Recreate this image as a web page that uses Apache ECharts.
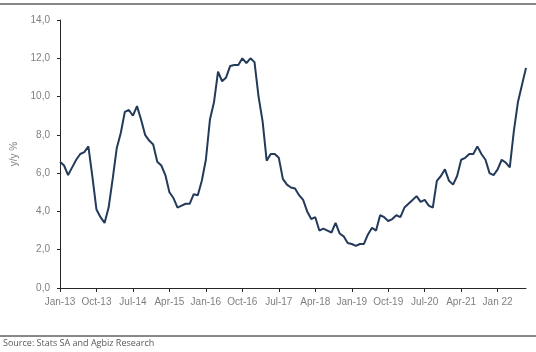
<!DOCTYPE html>
<html>
<head>
<meta charset="utf-8">
<script src="https://cdn.jsdelivr.net/npm/echarts@6/dist/echarts.min.js"></script>
<style>
  html, body { margin: 0; padding: 0; background: #fff; }
  #chart { width: 536px; height: 352px; }
</style>
</head>
<body>
<div id="chart"></div>
<script>
// monthly, Jan-13 .. Aug-22
const monthNames = ["Jan", "Feb", "Mar", "Apr", "May", "Jun", "Jul", "Aug", "Sep", "Oct", "Nov", "Dec"];
const categories = [];
for (let y = 13; y <= 22; y++) {
  for (let m = 0; m < 12; m++) {
    if (y === 22 && m > 7) break;
    categories.push(monthNames[m] + "-" + y);
  }
}

const xTickLabels = ["Jan-13", "Oct-13", "Jul-14", "Apr-15", "Jan-16", "Oct-16", "Jul-17",
  "Apr-18", "Jan-19", "Oct-19", "Jul-20", "Apr-21", "Jan 22"];

const yoy = [
  6.6, 6.4, 5.9, 6.3, 6.7, 7.0, 7.1, 7.4, 5.8, 4.1, 3.7, 3.4,
  4.2, 5.7, 7.3, 8.1, 9.2, 9.3, 9.0, 9.5, 8.8, 8.0, 7.7, 7.5,
  6.6, 6.4, 5.9, 5.0, 4.7, 4.2, 4.3, 4.4, 4.4, 4.9, 4.85, 5.6,
  6.7, 8.8, 9.7, 11.3, 10.8, 11.0, 11.6, 11.65, 11.65, 12.0, 11.75, 12.0,
  11.8, 10.0, 8.7, 6.65, 7.0, 7.0, 6.8, 5.7, 5.4, 5.25, 5.2, 4.85,
  4.6, 4.0, 3.6, 3.7, 3.0, 3.1, 3.0, 2.9, 3.4, 2.85, 2.7, 2.35,
  2.3, 2.2, 2.3, 2.3, 2.8, 3.15, 3.0, 3.8, 3.7, 3.5, 3.6, 3.8,
  3.7, 4.2, 4.4, 4.6, 4.8, 4.5, 4.6, 4.3, 4.2, 5.6, 5.85, 6.2,
  5.6, 5.4, 5.85, 6.7, 6.8, 7.0, 7.0, 7.4, 7.0, 6.7, 6.0, 5.9,
  6.2, 6.7, 6.55, 6.3, 8.2, 9.7, 10.6, 11.5
];

const myChart = echarts.init(document.getElementById("chart"));
const grey = "#7f7f7f";

const option = {
  animation: false,
  grid: { left: 60, right: 10, top: 20, bottom: 64 },
  xAxis: {
    type: "category",
    data: categories,
    boundaryGap: false,
    axisLine: { lineStyle: { color: "#262626", width: 1 } },
    axisTick: {
      interval: (i) => i % 9 === 0,
      length: 4,
      lineStyle: { color: "#262626" },
    },
    axisLabel: {
      interval: (i) => i % 9 === 0,
      formatter: (v, i) => xTickLabels[i / 9],
      color: grey,
      fontFamily: "Liberation Sans",
      fontSize: 10,
      margin: 9,
    },
  },
  yAxis: {
    type: "value",
    min: 0,
    max: 14,
    interval: 2,
    name: "y/y %",
    nameLocation: "middle",
    nameGap: 40,
    nameTextStyle: { color: grey, fontFamily: "Liberation Sans", fontSize: 10 },
    axisLine: { show: true, lineStyle: { color: "#262626", width: 1 } },
    axisTick: { show: true, length: 3, lineStyle: { color: "#262626" } },
    splitLine: { show: false },
    axisLabel: {
      formatter: (v) => v.toFixed(1).replace(".", ","),
      color: grey,
      fontFamily: "Liberation Sans",
      fontSize: 10,
      margin: 10,
    },
  },
  series: [
    {
      type: "line",
      data: yoy,
      symbol: "none",
      lineStyle: { color: "#243a5a", width: 2 },
    },
  ],
  graphic: [
    { type: "line", shape: { x1: 0, y1: 4, x2: 536, y2: 4 }, style: { stroke: "#111", lineWidth: 1 } },
    { type: "line", shape: { x1: 0, y1: 336, x2: 536, y2: 336 }, style: { stroke: "#111", lineWidth: 1 } },
    {
      type: "text",
      left: 3,
      top: 339,
      style: { text: "Source: Stats SA and Agbiz Research", fill: "#595959", font: "9px 'Open Sans'" },
    },
  ],
};

myChart.setOption(option);
</script>
</body>
</html>
